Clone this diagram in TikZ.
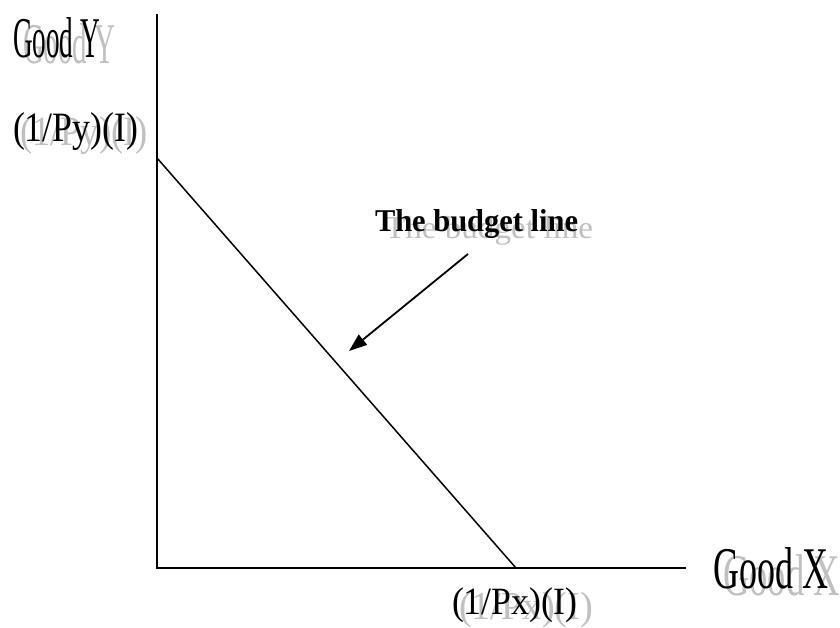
\documentclass[tikz,border=0pt]{standalone}
\usepackage{fontspec}
\setmainfont{Liberation Serif}
\usepackage{graphicx}
\usetikzlibrary{arrows.meta}
\definecolor{shade}{RGB}{192,192,192}
\tikzset{
  lbl/.style={inner sep=0pt, outer sep=0pt, anchor=north west},
  axis/.style={line width=1.8pt, black},
  bline/.style={line width=1.5pt, black},
  pointer/.style={line width=1.8pt, black, -{Triangle[length=18pt,width=13pt]}}
}
\begin{document}
\begin{tikzpicture}[x=1pt,y=-1pt]
\useasboundingbox (0,0) rectangle (840,628);
% shadows
\node[lbl, text=shade] (gyS) at (23,23) {\resizebox{92pt}{40pt}{Good Y}};
\node[lbl, text=shade] (pyS) at (20,117) {\resizebox*{128pt}{38pt}{(1/Py)(I)}};
\node[lbl, text=shade] (gxS) at (723,554) {\resizebox{117pt}{41pt}{Good X}};
\node[lbl, text=shade] (pxS) at (459,592) {\resizebox*{134pt}{36pt}{(1/Px)(I)}};
\node[lbl, text=shade] (blS) at (385,216) {\resizebox*{208pt}{29pt}{The budget line}};
% labels
\node[lbl] (gy) at (13,17) {\resizebox{87pt}{40pt}{Good Y}};
\node[lbl] (py) at (13,113) {\resizebox*{125pt}{38pt}{(1/Py)(I)}};
\node[lbl] (gx) at (713,547) {\resizebox{115pt}{41pt}{Good X}};
\node[lbl] (px) at (452,588) {\resizebox*{125pt}{35pt}{(1/Px)(I)}};
\node[lbl] (bl) at (375,209) {\resizebox*{203pt}{29pt}{\bfseries The budget line}};
% axes
\coordinate (O) at (157,568);
\coordinate (ytop) at (157,14);
\coordinate (xend) at (686,568);
\coordinate (yint) at (157,158);
\coordinate (xint) at (516,568);
\coordinate (ar1) at (468,254);
\coordinate (ar2) at (349,351);
\draw[axis] (ytop) -- (O) -- (xend);
\draw[bline] (yint) -- (xint);
\draw[pointer] (ar1) -- (ar2);
\end{tikzpicture}
\end{document}
